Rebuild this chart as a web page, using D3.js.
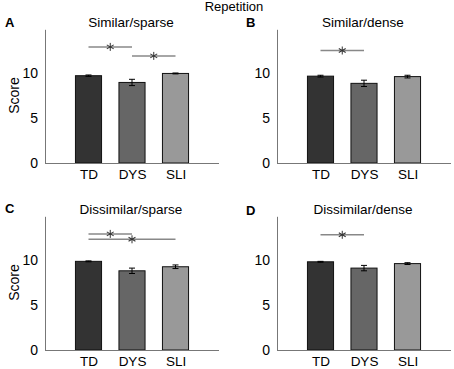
<!DOCTYPE html>
<html>
<head>
<meta charset="utf-8">
<script src="https://cdn.jsdelivr.net/npm/d3@7"></script>
<style>
  body { margin: 0; background: #fff; }
  text { font-family: "Liberation Sans", Arial, sans-serif; fill: #000; }
</style>
</head>
<body>
<script>
const groups = ["TD", "DYS", "SLI"];
const groupColors = ["#333333", "#666666", "#999999"];
const panelLetters = ["A", "B", "C", "D"];
const panelTitles = ["Similar/sparse", "Similar/dense", "Dissimilar/sparse", "Dissimilar/dense"];
const yTicks = [0, 5, 10];

// mean score and error per group (TD, DYS, SLI)
const meanSimSparse = [9.7, 8.95, 9.95];
const errSimSparse = [0.08, 0.35, 0.05];
const meanSimDense = [9.65, 8.85, 9.6];
const errSimDense = [0.1, 0.35, 0.15];
const meanDisSparse = [9.85, 8.8, 9.25];
const errDisSparse = [0.05, 0.3, 0.2];
const meanDisDense = [9.8, 9.1, 9.6];
const errDisDense = [0.05, 0.3, 0.1];

// significance brackets: [from group, to group, height on score axis]
const sigSimSparse = [["TD", "DYS", 12.9], ["DYS", "SLI", 11.9]];
const sigSimDense = [["TD", "DYS", 12.5]];
const sigDisSparse = [["TD", "DYS", 12.9], ["TD", "SLI", 12.3]];
const sigDisDense = [["TD", "DYS", 12.8]];

const panelMeans = [meanSimSparse, meanSimDense, meanDisSparse, meanDisDense];
const panelErrs = [errSimSparse, errSimDense, errDisSparse, errDisDense];
const panelSigs = [sigSimSparse, sigSimDense, sigDisSparse, sigDisDense];

const W = 454, H = 369;
const pw = 174, ph = 135;
const origins = [[45, 28], [277, 28], [45, 215], [277, 215]];
const letterY = [-1, -1, -2, 0];

const svg = d3.select("body").append("svg")
  .attr("width", W)
  .attr("height", H);

svg.append("text")
  .attr("x", 234)
  .attr("y", 11)
  .attr("text-anchor", "middle")
  .style("font-size", "13px")
  .text("Repetition");

const x = d3.scaleLinear().domain([0, 4]).range([0, pw]);
const y = d3.scaleLinear().domain([0, 15]).range([ph, 0]);
const barW = x(0.6) - x(0);
const gx = name => x(groups.indexOf(name) + 1);

panelTitles.forEach((title, p) => {
  const g = svg.append("g")
    .attr("transform", "translate(" + origins[p][0] + "," + origins[p][1] + ")");

  const rows = groups.map((name, i) => ({
    name: name, mean: panelMeans[p][i], err: panelErrs[p][i], color: groupColors[i]
  }));

  // bars
  g.selectAll(".bar")
    .data(rows)
    .enter().append("rect")
    .attr("class", "bar")
    .attr("x", d => gx(d.name) - barW / 2)
    .attr("y", d => y(d.mean))
    .attr("width", barW)
    .attr("height", d => y(0) - y(d.mean))
    .attr("fill", d => d.color)
    .attr("stroke", "#111")
    .attr("stroke-width", 1);

  // error bars
  const eb = g.selectAll(".err")
    .data(rows)
    .enter().append("g")
    .attr("class", "err")
    .attr("stroke", "#000")
    .attr("stroke-width", 1);
  eb.append("line")
    .attr("x1", d => gx(d.name)).attr("x2", d => gx(d.name))
    .attr("y1", d => y(d.mean - d.err)).attr("y2", d => y(d.mean + d.err));
  eb.append("line")
    .attr("x1", d => gx(d.name) - 3).attr("x2", d => gx(d.name) + 3)
    .attr("y1", d => y(d.mean + d.err)).attr("y2", d => y(d.mean + d.err));
  eb.append("line")
    .attr("x1", d => gx(d.name) - 3).attr("x2", d => gx(d.name) + 3)
    .attr("y1", d => y(d.mean - d.err)).attr("y2", d => y(d.mean - d.err));

  // axes
  const yAxis = g.append("g")
    .call(d3.axisLeft(y).tickValues(yTicks).tickSize(0).tickPadding(7));
  yAxis.select(".domain").attr("stroke", "#777").attr("d", "M0.5," + y(0) + "V" + y(14.8));
  yAxis.selectAll("text").style("font-size", "14px");

  const xAxis = g.append("g")
    .attr("transform", "translate(0," + y(0) + ")")
    .call(d3.axisBottom(x).tickValues([1, 2, 3]).tickFormat(v => groups[v - 1]).tickSize(0).tickPadding(6));
  xAxis.select(".domain").attr("stroke", "#777").attr("d", "M0,0.5H" + pw);
  xAxis.selectAll("text").style("font-size", "13.5px");

  // significance lines
  panelSigs[p].forEach(s => {
    const x1 = gx(s[0]), x2 = gx(s[1]), yy = y(s[2]);
    g.append("line")
      .attr("x1", x1).attr("x2", x2)
      .attr("y1", yy).attr("y2", yy)
      .attr("stroke", "#888")
      .attr("stroke-width", 1.5);
    const cx = (x1 + x2) / 2;
    const star = g.append("g")
      .attr("transform", "translate(" + cx + "," + yy + ")")
      .attr("stroke", "#333")
      .attr("stroke-width", 1);
    [0, 60, 120].forEach(a => {
      star.append("line")
        .attr("x1", 0).attr("y1", -4)
        .attr("x2", 0).attr("y2", 4)
        .attr("transform", "rotate(" + a + ")");
    });
  });

  // titles
  g.append("text")
    .attr("x", pw / 2 - 1)
    .attr("y", -1)
    .attr("text-anchor", "middle")
    .style("font-size", "13.5px")
    .text(title);

  g.append("text")
    .attr("x", p % 2 === 0 ? -40 : -31)
    .attr("y", letterY[p])
    .style("font-size", "13px")
    .style("font-weight", "bold")
    .text(panelLetters[p]);

  if (p % 2 === 0) {
    g.append("text")
      .attr("transform", "translate(-26," + (ph / 2) + ") rotate(-90)")
      .attr("text-anchor", "middle")
      .style("font-size", "14px")
      .text("Score");
  }
});
</script>
</body>
</html>
